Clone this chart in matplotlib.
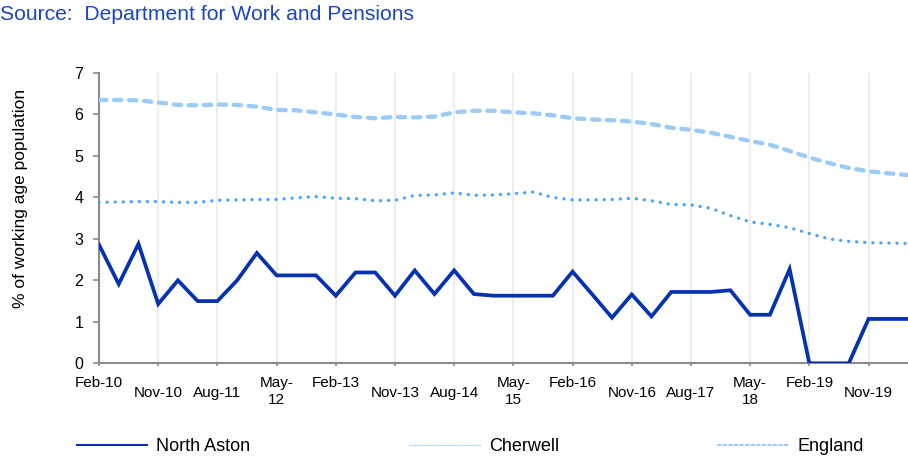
import matplotlib
matplotlib.use("Agg")
import matplotlib.pyplot as plt

plt.rcParams['font.family'] = ['Liberation Sans', 'DejaVu Sans']
plt.rcParams['lines.scale_dashes'] = False

# quarterly points Feb-10 .. May-20
tick_labels = ["Feb-10", "Nov-10", "Aug-11", "May-\n12", "Feb-13", "Nov-13", "Aug-14",
               "May-\n15", "Feb-16", "Nov-16", "Aug-17", "May-\n18", "Feb-19", "Nov-19"]

north_aston = [2.86, 1.91, 2.88, 1.43, 2.00, 1.50, 1.50, 2.00, 2.66, 2.12,
               2.12, 2.12, 1.63, 2.19, 2.19, 1.63, 2.24, 1.67, 2.24, 1.67,
               1.63, 1.63, 1.63, 1.63, 2.21, 1.66, 1.10, 1.66, 1.13, 1.72,
               1.72, 1.72, 1.76, 1.17, 1.17, 2.27, 0.00, 0.00, 0.00, 1.07,
               1.07, 1.07]

cherwell = [3.88, 3.89, 3.90, 3.90, 3.88, 3.88, 3.93, 3.94, 3.95, 3.95,
            3.99, 4.02, 3.98, 3.97, 3.92, 3.93, 4.05, 4.06, 4.11, 4.05,
            4.06, 4.09, 4.13, 4.00, 3.94, 3.94, 3.95, 3.98, 3.92, 3.83,
            3.82, 3.74, 3.56, 3.41, 3.35, 3.27, 3.13, 3.00, 2.94, 2.91,
            2.90, 2.89]

england = [6.35, 6.35, 6.34, 6.29, 6.23, 6.22, 6.24, 6.23, 6.19, 6.11,
           6.10, 6.05, 6.00, 5.94, 5.91, 5.94, 5.93, 5.95, 6.05, 6.09,
           6.09, 6.05, 6.03, 5.98, 5.91, 5.88, 5.86, 5.83, 5.77, 5.68,
           5.63, 5.56, 5.46, 5.36, 5.27, 5.12, 4.96, 4.83, 4.71, 4.63,
           4.58, 4.54]

x = list(range(len(north_aston)))
tick_pos = x[::3]

fig = plt.figure(figsize=(9.08, 4.58), dpi=100)
ax = fig.add_axes([99 / 908, 1 - 363.3 / 458, 1 - 99 / 908, 290.3 / 458])

ax.plot(x, england, color="#9dcbf8", lw=3.1, dashes=(5.3, 5.5),
        dash_capstyle="round", label="England", zorder=3)
ax.plot(x, cherwell, color="#4da5fb", lw=2.4, dashes=(0.1, 5.7),
        dash_capstyle="round", label="Cherwell", zorder=3)
ax.plot(x, north_aston, color="#0632b0", lw=2.7, label="North Aston",
        solid_joinstyle="miter", zorder=4)

ax.set_xlim(0, len(x) - 1)
ax.set_ylim(0, 7)
ax.set_yticks(range(8))
ax.set_xticks(tick_pos)
ax.set_xticklabels(tick_labels, fontsize=11)
ax.tick_params(axis="y", labelsize=11.5, length=4.3, width=1.2, color="#8c8c8c", pad=7)
ax.tick_params(axis="x", length=2.5, width=1.2, color="#8c8c8c")
for tick, lab in zip(ax.xaxis.get_major_ticks(), tick_labels):
    if lab.startswith("Feb") or lab.startswith("May"):
        tick.set_pad(7)
    else:
        tick.set_pad(13.5)

ax.grid(axis="x", color="#ececec", lw=1.3)
ax.set_axisbelow(True)
for s in ["top", "right"]:
    ax.spines[s].set_visible(False)
for s in ["left", "bottom"]:
    ax.spines[s].set_color("#8c8c8c")
    ax.spines[s].set_linewidth(1.5)

ax.set_ylabel("% of working age population", fontsize=12.5)
ax.yaxis.set_label_coords(-0.088, 0.569)

fig.text(0.0, 1 - 20 / 458, "Source:  Department for Work and Pensions",
         fontsize=15.2, color="#1d46bd", ha="left", va="baseline")

handles, labels = ax.get_legend_handles_labels()
order = [2, 1, 0]
leg = fig.legend([handles[i] for i in order], [labels[i] for i in order],
                 loc="center left", bbox_to_anchor=(77 / 908, 1 - 446.7 / 458),
                 ncol=3, frameon=False, fontsize=13, handlelength=3.9,
                 handletextpad=0.5, columnspacing=8.8, borderpad=0, borderaxespad=0)
for ln in leg.get_lines():
    ln.set_linewidth(1.5)
leg.get_lines()[1].set_linewidth(1.0)
leg.get_lines()[1].set_dashes((0.6, 1.2))
leg.get_lines()[1].set_color("#a9d2fb")
leg.get_lines()[2].set_dashes((2.0, 2.0))

fig.savefig("out.png", dpi=100)
